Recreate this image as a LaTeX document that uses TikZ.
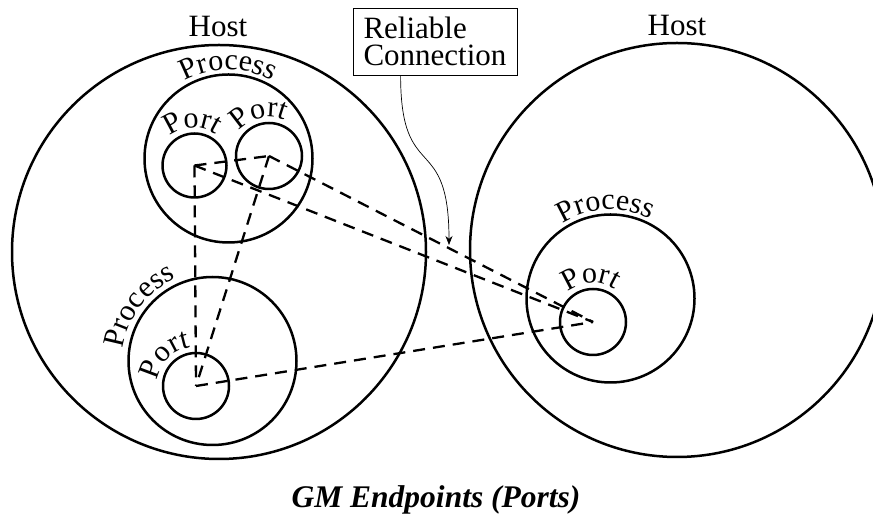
\documentclass[tikz,border=0pt]{standalone}
\usepackage{fontspec}
\setmainfont{Liberation Serif}
\usetikzlibrary{decorations.text,arrows.meta}
\newcommand\lblfont{\fontsize{30}{30}\selectfont}
\tikzset{
  ring/.style={circle,draw,line width=2.5pt,inner sep=0pt,minimum size=#1},
  link/.style={line width=2.3pt,dash pattern=on 12pt off 8pt},
  arclabel/.style={decorate,decoration={text along path,text align=center,text={|\lblfont|#1}}}
}
\begin{document}
\begin{tikzpicture}[x=1pt,y=1pt]
\clip (0,0) rectangle (873,516);
\fill[white] (0,0) rectangle (873,516);
% hosts
\node[ring=414pt] (hostL) at (219,264) {};
\node[ring=414pt] (hostR) at (677,266) {};
% processes
\node[ring=168pt] (procT) at (228.5,357.5) {};
\node[ring=168pt] (procB) at (212.5,155) {};
\node[ring=168pt] (procR) at (610.5,217.5) {};
% ports
\node[ring=64pt] (portTL) at (194.5,350.5) {};
\node[ring=66pt] (portTR) at (269,360) {};
\node[ring=66pt] (portB) at (196,130) {};
\node[ring=66pt] (portR) at (593,194) {};
% connections
\draw[link] (portTL.center) -- (portTR.center);
\draw[link] (portTL.center) -- (portB.center);
\draw[link] (portTL.center) -- (portR.center);
\draw[link] (portTR.center) -- (portB.center);
\draw[link] (portTR.center) -- (portR.center);
\draw[link] (portB.center) -- (portR.center);
% host labels
\node[font=\fontsize{31}{31}\selectfont,anchor=base] (hlL) at (218,479) {Host};
\node[font=\fontsize{31}{31}\selectfont,anchor=base] (hlR) at (677,480) {Host};
% curved labels
\path[arclabel=Process] (procT.center) ++(160:89) arc[start angle=160,end angle=20,radius=89];
\path[arclabel=Process] (procR.center) ++(163:89) arc[start angle=163,end angle=23,radius=89];
\path[arclabel=Process] (procB.center) ++(213:90) arc[start angle=213,end angle=73,radius=90];
\path[arclabel=Port] (portTL.center) ++(173:38) arc[start angle=173,end angle=13,radius=38];
\path[arclabel=Port] (portTR.center) ++(183:39) arc[start angle=183,end angle=23,radius=39];
\path[arclabel=Port] (portB.center) ++(215:39) arc[start angle=215,end angle=55,radius=39];
\path[arclabel=Port] (portR.center) ++(173:39) arc[start angle=173,end angle=13,radius=39];
% annotation
\node[draw,line width=0.8pt,minimum width=164pt,minimum height=67pt,inner sep=0pt,
      align=left,font=\fontsize{31}{27}\selectfont] (rc) at (435,474.5) {Reliable\\Connection};
\coordinate (tip) at (449,271);
\draw[line width=0.7pt,-{Stealth[length=9pt,width=7pt]}] ([xshift=48pt]rc.south west)
   .. controls +(0,-110) and +(0,115) .. (tip);
% caption
\node[font=\fontsize{31.5}{31.5}\selectfont\bfseries\itshape,anchor=base] (cap) at (436,8) {GM Endpoints (Ports)};
\end{tikzpicture}
\end{document}
